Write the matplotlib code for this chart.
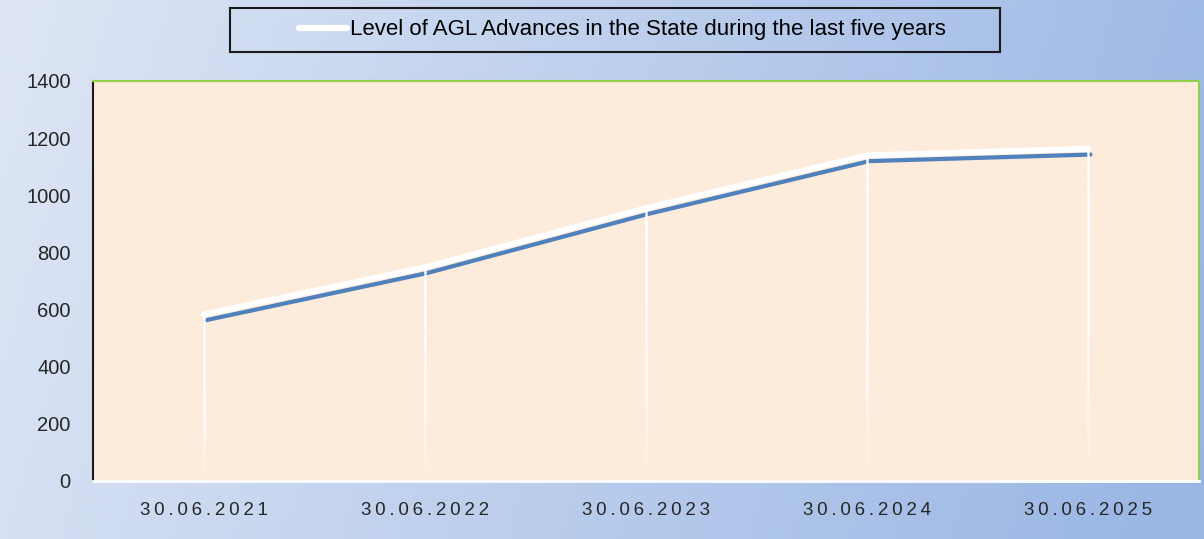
import numpy as np
import matplotlib.pyplot as plt
import matplotlib.patheffects as pe
from matplotlib.collections import LineCollection
from matplotlib.lines import Line2D
from matplotlib.patches import Rectangle

# ------------------------------
# Data
# ------------------------------
dates = ['30.06.2021', '30.06.2022', '30.06.2023', '30.06.2024', '30.06.2025']
agl_advances = [583, 748, 955, 1140, 1163]
series_label = 'Level of AGL Advances in the State during the last five years'
y_ticks = [0, 200, 400, 600, 800, 1000, 1200, 1400]

plt.rcParams['font.family'] = ['Liberation Sans', 'DejaVu Sans']

fig = plt.figure(figsize=(12.04, 5.39), dpi=100)

# gradient background
bg = fig.add_axes([0, 0, 1, 1], zorder=-10)
gx = np.linspace(0, 1, 256)
gy = np.linspace(0, 1, 64)
X, Y = np.meshgrid(gx, gy)
t = np.clip(0.88 * X + 0.12 * Y, 0, 1)
c0 = np.array([222, 230, 245]) / 255
c1 = np.array([152, 181, 228]) / 255
img = c0[None, None, :] * (1 - t[..., None]) + c1[None, None, :] * t[..., None]
bg.imshow(img, aspect='auto', extent=[0, 1, 0, 1], origin='upper')
bg.set_axis_off()

ax = fig.add_axes([93 / 1204, 1 - 481 / 539, 1106 / 1204, 400 / 539])
ax.set_facecolor('#fdebdc')
x = np.arange(len(dates))

ax.plot(x, agl_advances, color='white', lw=4.2, solid_capstyle='round',
        solid_joinstyle='round', zorder=3,
        path_effects=[pe.Stroke(offset=(1.5, -4.2), linewidth=3, foreground='#4f81bd',
                                capstyle='round'),
                      pe.Normal()])

# fading white drop lines
segs, cols = [], []
n = 60
for xi, yi in zip(x, agl_advances):
    ys = np.linspace(yi, 0, n + 1)
    for k in range(n):
        segs.append([(xi, ys[k]), (xi, ys[k + 1])])
        a = max(0.0, 1 - (k / n) ** 3)
        cols.append((1, 1, 1, a))
ax.add_collection(LineCollection(segs, colors=cols, linewidths=1.8, zorder=4,
                                 capstyle='butt'))

ax.set_xlim(-0.5, len(dates) - 0.5)
ax.set_ylim(0, 1400)
ax.set_yticks(y_ticks)
ax.set_yticklabels([str(v) for v in y_ticks], fontsize=14.5, color='#262626')
ax.set_xticks(x)
ax.set_xticklabels(['\u2009'.join(d) for d in dates], fontsize=13.5, color='#262626')
ax.tick_params(axis='both', length=0)
ax.tick_params(axis='y', pad=16)
ax.tick_params(axis='x', pad=15)

ax.spines['top'].set_color('#92d050')
ax.spines['right'].set_color('#92d050')
ax.spines['left'].set_color('#1a1a1a')
ax.spines['bottom'].set_color('white')
ax.spines['top'].set_linewidth(1.5)
ax.spines['right'].set_linewidth(1.5)
ax.spines['left'].set_linewidth(1.5)
ax.spines['bottom'].set_linewidth(2)

# legend with a wide black frame
fig.patches.append(Rectangle((230 / 1204, 1 - 52 / 539), 770 / 1204, 44 / 539,
                             transform=fig.transFigure, fill=False,
                             edgecolor='#1a1a1a', linewidth=1.5))
handle = Line2D([], [], color='white', lw=4.5, solid_capstyle='round')
fig.legend([handle], [series_label], loc='center',
           bbox_to_anchor=(622 / 1204, 1 - 30 / 539), frameon=False,
           fontsize=16, handlelength=2.2, handletextpad=0.1)

fig.savefig('out.png', dpi=100)
